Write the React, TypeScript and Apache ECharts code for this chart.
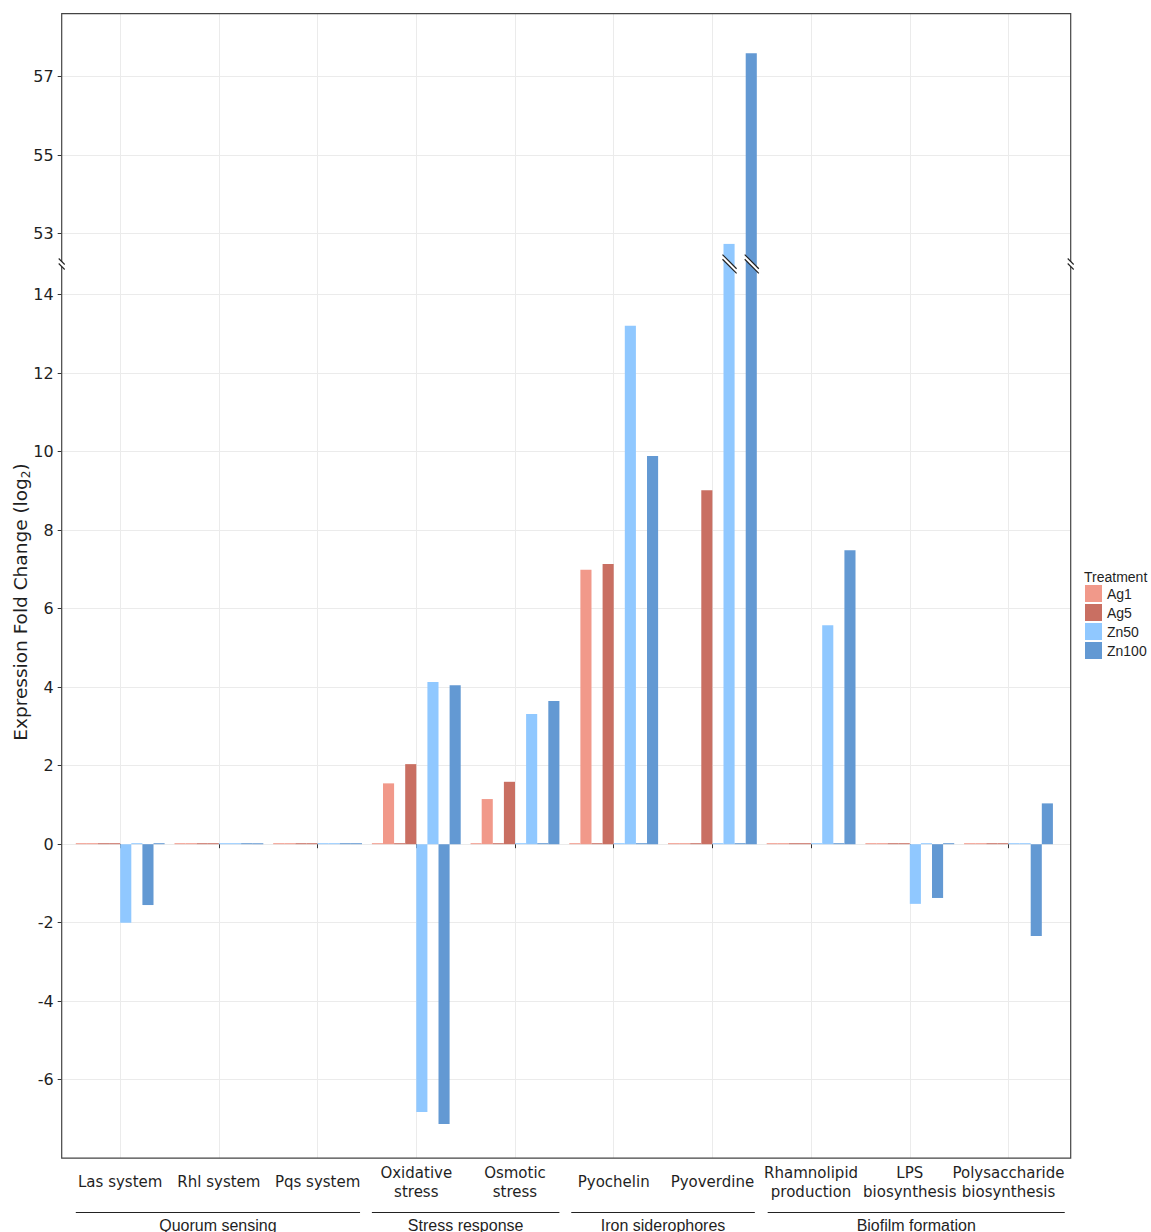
import React, { useEffect, useRef } from 'react';
import * as echarts from 'echarts';

// ---------- data ----------
const categories = [
  'Las system',
  'Rhl system',
  'Pqs system',
  'Oxidative\nstress',
  'Osmotic\nstress',
  'Pyochelin',
  'Pyoverdine',
  'Rhamnolipid\nproduction',
  'LPS\nbiosynthesis',
  'Polysaccharide\nbiosynthesis',
];
const treatments = ['Ag1', 'Ag5', 'Zn50', 'Zn100'];
const treatmentColors = ['#F1998A', '#C96F62', '#90C8FF', '#6399D3'];

// log2 fold change: down-regulated slot and up-regulated slot per treatment
const ag1Down = [0, 0, 0, 0, 0, 0, 0, 0, 0, 0];
const ag1Up = [0, 0, 0, 1.55, 1.15, 6.99, 0, 0, 0, 0];
const ag5Down = [0, 0, 0, 0, 0, 0, 0, 0, 0, 0];
const ag5Up = [0, 0, 0, 2.04, 1.59, 7.14, 9.02, 0, 0, 0];
const zn50Down = [-2.0, 0, 0, -6.82, 0, 0, 0, 0, -1.52, 0];
const zn50Up = [0, 0, 0, 4.13, 3.32, 13.21, 52.74, 5.58, 0, 0];
const zn100Down = [-1.55, 0, 0, -7.13, 0, 0, 0, 0, -1.37, -2.34];
const zn100Up = [0, 0, 0, 4.05, 3.65, 9.89, 57.6, 7.49, 0, 1.04];

const groupNames = ['Quorum sensing', 'Stress response', 'Iron siderophores', 'Biofilm formation'];
const groupFirst = [0, 3, 5, 7];
const groupLast = [2, 4, 6, 9];

const upperTicks = [53, 55, 57];
const lowerTicks = [-6, -4, -2, 0, 2, 4, 6, 8, 10, 12, 14];
const lowerFloor = -8;

// ---------- layout ----------
const W = 1151;
const H = 1232;
const PANEL_L = 61.7;
const PANEL_R = 1070.7;
const PANEL_T = 13.7;
const UNIT = 39.25; // px per log2 unit
const Y_UPPER_TOP_TICK = 76.7;
const Y_LOWER_TOP_TICK = 294.7;
const BREAK_Y = 265;
const FIRST_X = 120.2;
const STEP = 98.7;
const GROUP_PAD_LEFT = [0.45, 0.45, 0.43, 0.44];
const GROUP_PAD_RIGHT = [0.43, 0.45, 0.43, 0.57];

const FONT_MAIN = '"DejaVu Sans", Verdana, sans-serif';
const FONT_ARIAL = '"Liberation Sans", Arial, sans-serif';
const GRID_COLOR = '#EBEBEB';
const TEXT_COLOR = '#1f1f1f';

const upMin = upperTicks[0];
const upMax = upperTicks[upperTicks.length - 1];
const loMin = lowerTicks[0];
const loMax = lowerTicks[lowerTicks.length - 1];
const PANEL_B = Y_LOWER_TOP_TICK + (loMax - lowerFloor) * UNIT;

const upperBarMin = upMax - (BREAK_Y - Y_UPPER_TOP_TICK) / UNIT;
const upperBarMax = upMax + (Y_UPPER_TOP_TICK - PANEL_T) / UNIT;
const lowerBarMax = loMax + (Y_LOWER_TOP_TICK - BREAK_Y) / UNIT;
const lowerBarMin = lowerFloor;

const nCat = categories.length;

const slots = [
  { name: treatments[0], values: ag1Down, color: treatmentColors[0] },
  { name: treatments[0], values: ag1Up, color: treatmentColors[0] },
  { name: treatments[1], values: ag5Down, color: treatmentColors[1] },
  { name: treatments[1], values: ag5Up, color: treatmentColors[1] },
  { name: treatments[2], values: zn50Down, color: treatmentColors[2] },
  { name: treatments[2], values: zn50Up, color: treatmentColors[2] },
  { name: treatments[3], values: zn100Down, color: treatmentColors[3] },
  { name: treatments[3], values: zn100Up, color: treatmentColors[3] },
];

const BAR_CAT_GAP = 0.1;

function makeBars(axisIndex: number) {
  return slots.map((s) => ({
    type: 'bar',
    name: s.name,
    xAxisIndex: axisIndex,
    yAxisIndex: axisIndex,
    data: s.values,
    barGap: '0%',
    barCategoryGap: BAR_CAT_GAP * 100 + '%',
    barMinHeight: 1,
    clip: true,
    silent: true,
    itemStyle: { color: s.color },
    emphasis: { disabled: true },
  }));
}

const hiddenValueAxis = (gridIndex: number, min = 0, max = 1) => ({
  gridIndex,
  type: 'value',
  show: false,
  min,
  max,
});

const tickLabelAxis = (gridIndex: number, min: number, max: number) => ({
  gridIndex,
  type: 'value',
  min,
  max,
  interval: 2,
  axisLine: { show: false },
  axisTick: { show: true, length: 4, lineStyle: { color: '#333', width: 1 } },
  axisLabel: { show: true, fontFamily: FONT_MAIN, fontSize: 16, color: TEXT_COLOR, margin: 8 },
  splitLine: { show: true, lineStyle: { color: GRID_COLOR, width: 1 } },
});

function buildOption() {
  const grid = [
    { left: FIRST_X, top: PANEL_T, width: STEP * (nCat - 1), height: PANEL_B - PANEL_T },
    { left: PANEL_L, top: Y_UPPER_TOP_TICK, width: PANEL_R - PANEL_L, height: (upMax - upMin) * UNIT },
    { left: PANEL_L, top: Y_LOWER_TOP_TICK, width: PANEL_R - PANEL_L, height: (loMax - loMin) * UNIT },
    { left: FIRST_X - STEP / 2, top: PANEL_T, width: STEP * nCat, height: BREAK_Y - PANEL_T },
    { left: FIRST_X - STEP / 2, top: BREAK_Y, width: STEP * nCat, height: PANEL_B - BREAK_Y },
  ].map((g) => ({ ...g, containLabel: false, outerBoundsMode: 'none' }));

  const xAxis = [
    {
      gridIndex: 0,
      type: 'value',
      min: 0,
      max: nCat - 1,
      interval: 1,
      axisLine: { show: false },
      axisTick: { show: false },
      axisLabel: { show: false },
      splitLine: { show: true, lineStyle: { color: GRID_COLOR, width: 1 } },
    },
    hiddenValueAxis(1),
    hiddenValueAxis(2),
    { gridIndex: 3, type: 'category', data: categories, show: false },
    {
      gridIndex: 4,
      type: 'category',
      data: categories,
      axisLine: { show: false },
      axisTick: { show: true, alignWithLabel: true, length: 4, lineStyle: { color: '#333', width: 1 } },
      axisLabel: {
        interval: 0,
        fontFamily: FONT_MAIN,
        fontSize: 15,
        color: TEXT_COLOR,
        lineHeight: 19,
        verticalAlign: 'middle',
        margin: 24,
      },
      splitLine: { show: false },
    },
  ];

  const yAxis = [
    hiddenValueAxis(0),
    tickLabelAxis(1, upMin, upMax),
    tickLabelAxis(2, loMin, loMax),
    hiddenValueAxis(3, upperBarMin, upperBarMax),
    hiddenValueAxis(4, lowerBarMin, lowerBarMax),
  ];

  return {
    animation: false,
    backgroundColor: '#ffffff',
    grid,
    xAxis,
    yAxis,
    legend: {
      data: treatments,
      orient: 'vertical',
      left: 1085,
      top: 585,
      padding: 0,
      itemWidth: 17,
      itemHeight: 17,
      itemGap: 2,
      icon: 'rect',
      selectedMode: false,
      textStyle: { fontFamily: FONT_ARIAL, fontSize: 14, color: TEXT_COLOR },
    },
    series: [...makeBars(3), ...makeBars(4)],
  };
}

function breakMark(x1: number, x2: number, yc: number, gap: number, lw: number) {
  const h = (x2 - x1) / 2;
  return [
    {
      type: 'polygon',
      z: 100,
      silent: true,
      shape: {
        points: [
          [x1, yc - gap - h],
          [x2, yc - gap + h],
          [x2, yc + gap + h],
          [x1, yc + gap - h],
        ],
      },
      style: { fill: '#ffffff' },
    },
    {
      type: 'line',
      z: 101,
      silent: true,
      shape: { x1, y1: yc - gap - h, x2, y2: yc - gap + h },
      style: { stroke: '#222', lineWidth: lw },
    },
    {
      type: 'line',
      z: 101,
      silent: true,
      shape: { x1, y1: yc + gap - h, x2, y2: yc + gap + h },
      style: { stroke: '#222', lineWidth: lw },
    },
  ];
}

export default function App() {
  const ref = useRef<HTMLDivElement>(null);

  useEffect(() => {
    if (!ref.current) return;
    const chart = echarts.init(ref.current, null, { renderer: 'svg' });
    chart.setOption(buildOption());

    const cx = (i: number) => (chart.convertToPixel({ gridIndex: 4 }, [i, 0]) as number[])[0];
    const band = cx(1) - cx(0);
    const slotW = (band * (1 - BAR_CAT_GAP)) / slots.length;

    const elements: any[] = [];

    elements.push({
      type: 'rect',
      z: 90,
      silent: true,
      shape: { x: PANEL_L, y: PANEL_T, width: PANEL_R - PANEL_L, height: PANEL_B - PANEL_T },
      style: { fill: 'none', stroke: '#444', lineWidth: 1.2 },
    });

    elements.push(...breakMark(PANEL_L - 3, PANEL_L + 3, BREAK_Y - 1, 2.5, 1.1));
    elements.push(...breakMark(PANEL_R - 3, PANEL_R + 3, BREAK_Y - 1, 2.5, 1.1));

    slots.forEach((s, k) => {
      s.values.forEach((v, i) => {
        if (v > lowerBarMax) {
          const left = cx(i) - (slots.length / 2) * slotW + k * slotW;
          elements.push(...breakMark(left - 1, left + slotW + 2, BREAK_Y - 1, 2.3, 1.2));
        }
      });
    });

    groupNames.forEach((g, gi) => {
      const x1 = cx(groupFirst[gi]) - band * GROUP_PAD_LEFT[gi];
      const x2 = cx(groupLast[gi]) + band * GROUP_PAD_RIGHT[gi];
      elements.push({
        type: 'line',
        silent: true,
        shape: { x1, y1: 1212.5, x2, y2: 1212.5 },
        style: { stroke: '#222', lineWidth: 1 },
      });
      elements.push({
        type: 'text',
        silent: true,
        x: (x1 + x2) / 2,
        y: 1225,
        style: {
          text: g,
          fontFamily: FONT_ARIAL,
          fontSize: 16,
          fill: TEXT_COLOR,
          align: 'center',
          verticalAlign: 'middle',
        },
      });
    });

    elements.push({
      type: 'text',
      silent: true,
      x: 20,
      y: 602,
      rotation: Math.PI / 2,
      style: {
        text: 'Expression Fold Change (log{s|2})',
        fontFamily: FONT_MAIN,
        fontSize: 18.5,
        lineHeight: 24,
        fill: TEXT_COLOR,
        align: 'center',
        verticalAlign: 'middle',
        rich: {
          s: { fontFamily: FONT_MAIN, fontSize: 12, lineHeight: 13, verticalAlign: 'bottom', fill: TEXT_COLOR },
        },
      },
    });

    elements.push({
      type: 'text',
      silent: true,
      x: 1084,
      y: 577,
      style: {
        text: 'Treatment',
        fontFamily: FONT_ARIAL,
        fontSize: 14,
        fill: TEXT_COLOR,
        align: 'left',
        verticalAlign: 'middle',
      },
    });

    chart.setOption({ graphic: elements });

    return () => chart.dispose();
  }, []);

  return (
    <div
      ref={ref}
      style={{ position: 'fixed', left: 0, top: 0, width: W, height: H, background: '#fff' }}
    />
  );
}
